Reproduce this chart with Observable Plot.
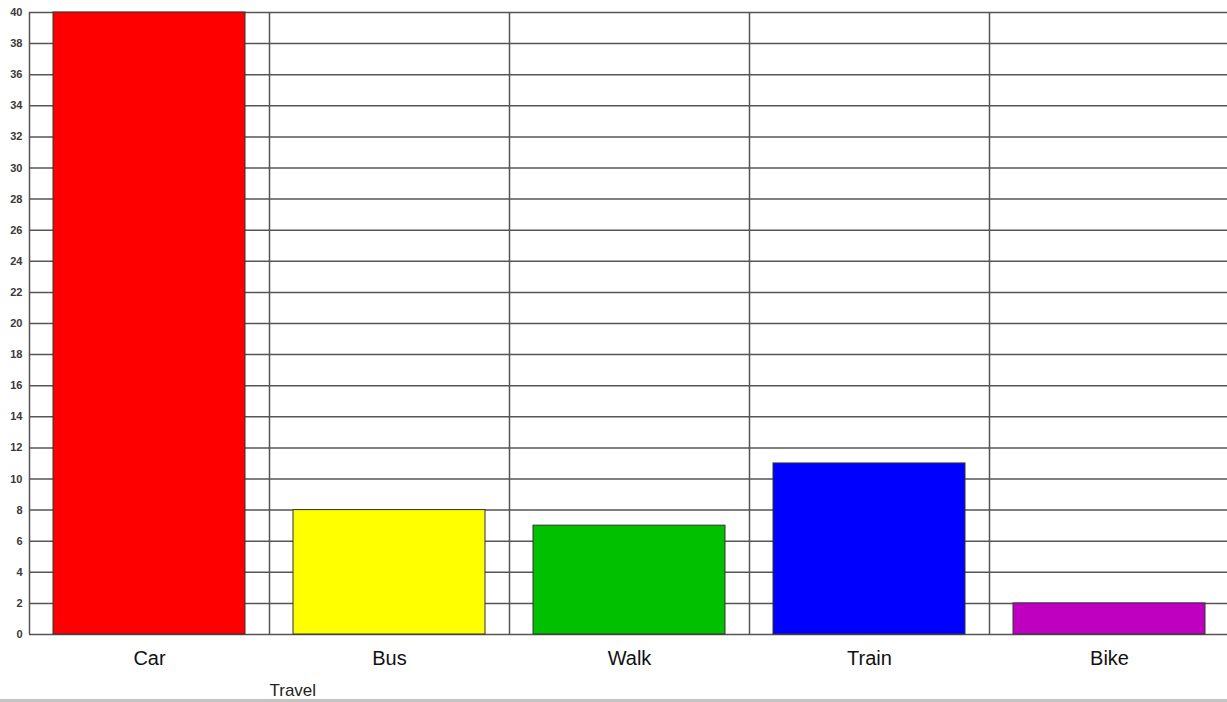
<!DOCTYPE html>
<html>
<head>
<meta charset="utf-8">
<script src="https://cdn.jsdelivr.net/npm/d3@7"></script>
<script src="https://cdn.jsdelivr.net/npm/@observablehq/plot@0.6"></script>
<style>
  html, body { margin: 0; padding: 0; background: #fff; overflow: hidden; }
  #bar { height: 3px; background: #c4c4c4; width: 1227px; }
</style>
</head>
<body>
<div id="chart"></div>
<div id="bar"></div>
<script>
const categories = ["Car", "Bus", "Walk", "Train", "Bike"];
const values = [40, 8, 7, 11, 2];
const colors = ["#ff0000", "#ffff00", "#00c000", "#0000ff", "#c000c0"];
const yTicks = d3.range(0, 41, 2);
const axisTitle = "Travel";

const data = categories.map((c, i) => ({category: c, value: values[i], color: colors[i]}));

const W = 1227, H = 699;
const xLeft = 29, xRight = 1229, yTop = 12, yBottom = 634;
const step = (xRight - xLeft) / categories.length;

const chart = Plot.plot({
  width: W,
  height: H,
  marginLeft: xLeft,
  marginTop: yTop,
  marginBottom: H - yBottom,
  marginRight: 0,
  style: {fontFamily: "Arial, 'Liberation Sans', sans-serif", background: "#fff", overflow: "visible"},
  x: {domain: categories, range: [xLeft, xRight], paddingInner: 0.2, paddingOuter: 0.1, label: null},
  y: {domain: [0, 40], label: null},
  marks: [
    Plot.ruleY(yTicks, {stroke: "#555", strokeWidth: 1.5, strokeOpacity: 1}),
    Plot.ruleX(categories, {x: d => d, dx: -step / 2, stroke: "#555", strokeWidth: 1.5, strokeOpacity: 1}),
    Plot.barY(data, {x: "category", y: "value", fill: "color", stroke: "#333", strokeWidth: 1}),
    Plot.axisY(yTicks, {tickSize: 0, tickPadding: 7, fontSize: 11, fontWeight: "bold", fill: "#3a3a3a", label: null}),
    Plot.axisX({tickSize: 0, tickPadding: 16, fontSize: 20, fill: "#111", label: null}),
    Plot.text([axisTitle], {x: () => "Bus", dx: -step / 2, frameAnchor: "bottom", dy: 61, textAnchor: "start", fontSize: 17, fill: "#222"})
  ]
});
document.getElementById("chart").appendChild(chart);
</script>
</body>
</html>
